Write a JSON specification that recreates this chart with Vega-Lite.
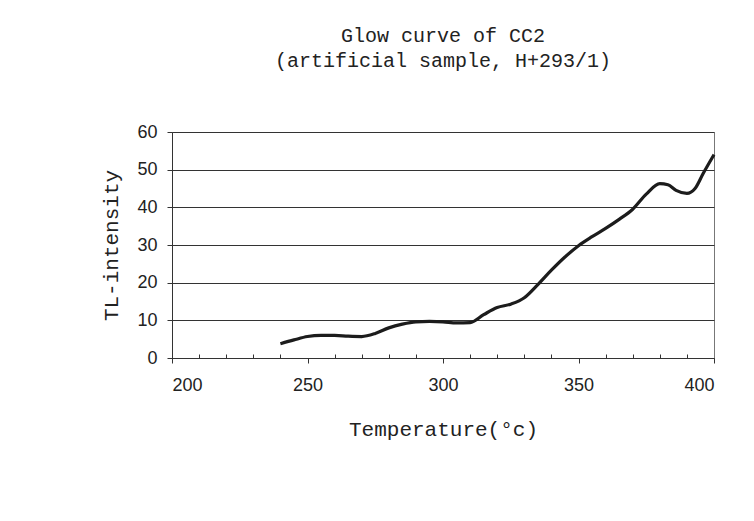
{
  "$schema": "https://vega.github.io/schema/vega-lite/v6.json",
  "autosize": {"type": "none"},
  "width": 542,
  "height": 226,
  "padding": {"left": 172, "top": 132, "right": 40, "bottom": 163},
  "background": "white",
  "title": {
    "text": ["Glow curve of CC2", "(artificial sample, H+293/1)"],
    "font": "Liberation Mono",
    "fontSize": 20,
    "fontWeight": "normal",
    "color": "#222",
    "lineHeight": 25,
    "anchor": "middle",
    "offset": 52
  },
  "config": {
    "view": {"stroke": "#777", "strokeWidth": 1},
    "axis": {
      "labelFont": "Liberation Sans",
      "labelFontSize": 18,
      "labelColor": "#222",
      "titleFont": "Liberation Mono",
      "titleFontSize": 21,
      "titleFontWeight": "normal",
      "titleColor": "#222",
      "domainColor": "#333",
      "tickColor": "#333"
    }
  },
  "data": {
    "values": [
      {"T": 240, "I": 3.8},
      {"T": 245, "I": 4.8},
      {"T": 250, "I": 5.7},
      {"T": 255, "I": 6.0},
      {"T": 260, "I": 6.0},
      {"T": 265, "I": 5.8},
      {"T": 270, "I": 5.7},
      {"T": 275, "I": 6.5},
      {"T": 280, "I": 8.0},
      {"T": 285, "I": 9.0},
      {"T": 290, "I": 9.6},
      {"T": 295, "I": 9.7},
      {"T": 300, "I": 9.6},
      {"T": 305, "I": 9.3},
      {"T": 310, "I": 9.4},
      {"T": 315, "I": 11.5},
      {"T": 320, "I": 13.4},
      {"T": 325, "I": 14.3},
      {"T": 330, "I": 16.0},
      {"T": 335, "I": 19.5},
      {"T": 340, "I": 23.3},
      {"T": 345, "I": 26.8},
      {"T": 350, "I": 29.8},
      {"T": 355, "I": 32.2},
      {"T": 360, "I": 34.4},
      {"T": 365, "I": 36.8},
      {"T": 370, "I": 39.5},
      {"T": 375, "I": 43.5},
      {"T": 380, "I": 46.3},
      {"T": 383, "I": 46.0},
      {"T": 386, "I": 44.5},
      {"T": 390, "I": 43.7},
      {"T": 393, "I": 45.0},
      {"T": 396, "I": 49.0},
      {"T": 400, "I": 54.0}
    ]
  },
  "layer": [
    {
      "mark": {"type": "line", "opacity": 0},
      "encoding": {
        "x": {
          "field": "T", "type": "quantitative",
          "scale": {"domain": [200, 400], "nice": false},
          "axis": {
            "orient": "bottom",
            "values": [210, 220, 230, 240, 260, 270, 280, 290, 310, 320, 330, 340, 360, 370, 380, 390],
            "labels": false, "grid": false, "domain": false, "title": null,
            "tickSize": -4
          }
        },
        "y": {
          "field": "I", "type": "quantitative",
          "scale": {"domain": [0, 60], "nice": false},
          "axis": null
        }
      }
    },
    {
      "mark": {"type": "line", "interpolate": "monotone", "color": "#1c1c1c", "strokeWidth": 3.2},
      "encoding": {
        "x": {
          "field": "T", "type": "quantitative",
          "scale": {"domain": [200, 400], "nice": false},
          "axis": {
            "orient": "bottom",
            "values": [200, 250, 300, 350, 400],
            "title": "Temperature(°c)",
            "tickSize": 5,
            "labelPadding": 13,
            "titlePadding": 24,
            "grid": false
          }
        },
        "y": {
          "field": "I", "type": "quantitative",
          "scale": {"domain": [0, 60], "nice": false},
          "axis": {
            "values": [0, 10, 20, 30, 40, 50, 60],
            "title": "TL-intensity",
            "tickSize": 5,
            "labelPadding": 10,
            "titlePadding": 15,
            "grid": true,
            "gridColor": "#333",
            "gridOpacity": 1,
            "gridWidth": 1
          }
        }
      }
    }
  ],
  "resolve": {"axis": {"x": "independent", "y": "independent"}}
}
